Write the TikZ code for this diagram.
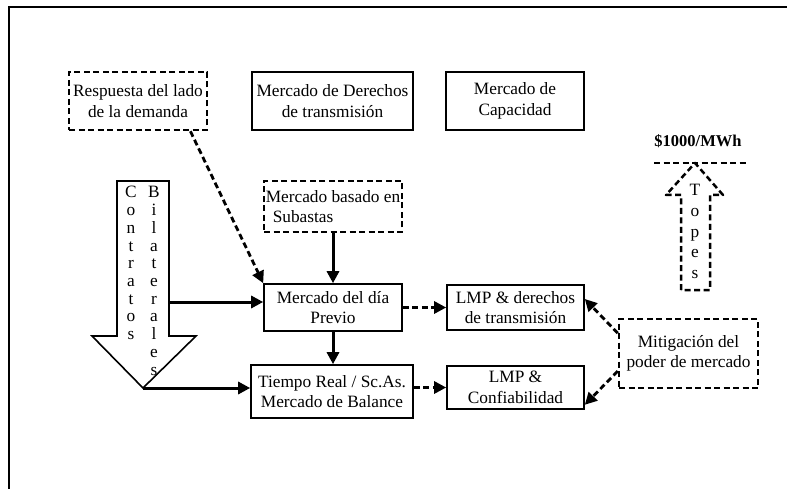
\documentclass[tikz,border=0pt]{standalone}
\usepackage{fontspec}
\setmainfont{Liberation Serif}
\usetikzlibrary{arrows.meta}
\begin{document}
\begin{tikzpicture}[x=1pt,y=-1pt,
  every node/.style={font=\fontsize{17.3}{20.5}\selectfont},
  box/.style={draw, line width=1.6pt, inner sep=0pt, align=center},
  dbox/.style={draw, line width=2.5pt, dash pattern=on 6pt off 3.5pt, inner sep=0pt, align=center},
  shapeline/.style={line width=1.6pt},
  dshapeline/.style={line width=2.5pt, dash pattern=on 6pt off 3.5pt, line join=round},
  solidarrow/.style={line width=3pt, -{Triangle[length=12pt,width=12pt]}},
  dasharrow/.style={line width=2.8pt, dash pattern=on 6pt off 3.5pt, -{Triangle[length=12pt,width=12pt]}},
  letter/.style={anchor=base, inner sep=0pt},
]
\useasboundingbox (0,0) rectangle (787,489);

% open frame
\draw[line width=2.2pt] (9,489) -- (9,7) -- (787,7);

% top row
\node[dbox, minimum width=138pt, minimum height=58pt] (resp) at (138,101) {Respuesta del lado\\de la demanda};
\node[box, minimum width=161pt, minimum height=58pt] (derechos) at (332.5,101) {Mercado de Derechos\\de transmisión};
\node[box, minimum width=138pt, minimum height=58pt] (capac) at (515,101) {Mercado de\\Capacidad};

% central column
\node[dbox, minimum width=138pt, minimum height=51pt, align=left] (subastas) at (333,206.5) {Mercado basado en\\\hspace*{7pt}Subastas};
\node[box, minimum width=138pt, minimum height=47pt] (dia) at (333,307.5) {Mercado del día\\Previo};
\node[box, minimum width=162pt, minimum height=53pt] (tiempo) at (332,391.5) {Tiempo Real / Sc.As.\\Mercado de Balance};

% results
\node[box, minimum width=137pt, minimum height=45pt] (lmpa) at (515.5,307.5) {LMP \& derechos\\de transmisión};
\node[box, minimum width=137pt, minimum height=43pt] (lmpb) at (515.5,387.5) {LMP \&\\Confiabilidad};
\node[dbox, minimum width=139pt, minimum height=69pt] (mitig) at (688.5,353.5) {Mitigación del\\poder de mercado};

% bilateral contracts arrow
\draw[shapeline, fill=white] (117,181) -- (169,181) -- (169,336) -- (196,336) -- (143,388) -- (92,336) -- (117,336) -- cycle;
\foreach \ch [count=\i from 0] in {C,o,n,t,r,a,t,o,s}
  \node[letter] (con\i) at (131,198+\i*17.7) {\ch};
\foreach \ch [count=\i from 0] in {B,i,l,a,t,e,r,a,l,e,s}
  \node[letter] (bil\i) at (154,198+\i*17.7) {\ch};
\coordinate (cshaft) at (169,302);
\coordinate (ctip) at (143,388);

% price cap
\node[anchor=base, font=\fontsize{16.5}{20}\selectfont\bfseries] (cap) at (698,147) {\$1000/MWh};
\coordinate (capl) at (654,163);
\coordinate (capr) at (748,163);
\draw[dshapeline] (capl) -- (capr);
\draw[dshapeline] (681,290) -- (681,195) -- (666,195) -- (695,163) -- (723,195) -- (710,195) -- (710,290) -- cycle;
\foreach \ch [count=\i from 0] in {T,o,p,e,s}
  \node[letter] (top\i) at (695,196+\i*20.5) {\ch};

% connectors
\draw[dasharrow] (resp.-30) -- (dia.north west);
\draw[solidarrow] (subastas.south) -- (dia.north);
\draw[solidarrow] (dia.south) -- (dia.south |- tiempo.north);
\draw[solidarrow] (cshaft) -- (cshaft -| dia.west);
\draw[solidarrow] (ctip) -- (ctip -| tiempo.west);
\draw[dasharrow] (dia.east) -- (lmpa.west);
\draw[dasharrow] (lmpb.west -| tiempo.east) -- (lmpb.west);
\draw[dasharrow] (mitig.164) -- (lmpa.7);
\draw[dasharrow] (mitig.194) -- (lmpb.-14);
\end{tikzpicture}
\end{document}
